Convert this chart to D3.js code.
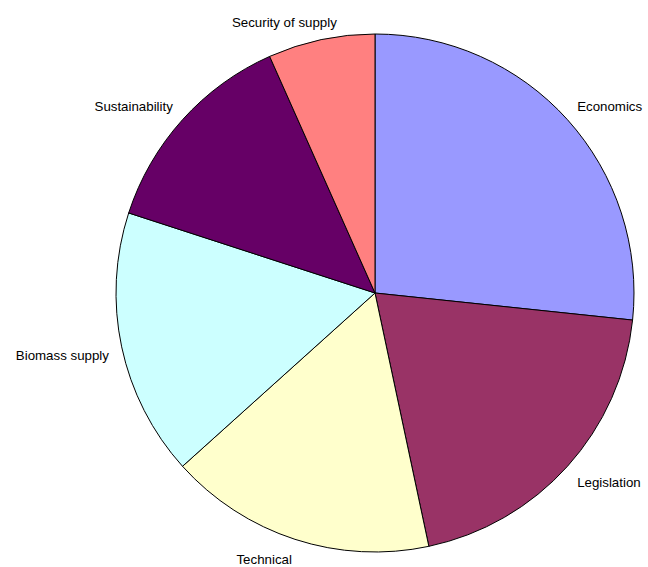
<!DOCTYPE html>
<html>
<head>
<meta charset="utf-8">
<script src="https://cdn.jsdelivr.net/npm/d3@7"></script>
<style>
  body { margin: 0; background: #fff; }
  text { font-family: "Liberation Sans", Arial, sans-serif; font-size: 13.3px; fill: #000; }
</style>
</head>
<body>
<div id="chart"></div>
<script>
let categories = ["Economics", "Legislation", "Technical", "Biomass supply", "Sustainability", "Security of supply"];
let counts = [8, 6, 5, 5, 4, 2];
let colors = ["#9999ff", "#993366", "#ffffcc", "#ccffff", "#660066", "#ff8080"];

let width = 648, height = 567;
let cx = 375, cy = 293, radius = 259;
let labelGap = 13;

let svg = d3.select("#chart").append("svg")
    .attr("width", width).attr("height", height)
    .append("g").attr("transform", "translate(" + cx + "," + cy + ")");

let data = categories.map(function(c, i) { return {name: c, value: counts[i], color: colors[i]}; });

/* no sorting, slices go clockwise from 12 o'clock */
let pie = d3.pie().sort(null).value(function(d) { return d.value; });
let arc = d3.arc().innerRadius(0).outerRadius(radius);

let arcs = pie(data);

svg.selectAll("path.slice")
    .data(arcs)
    .enter().append("path")
    .attr("class", "slice")
    .attr("d", arc)
    .attr("fill", function(d) { return d.data.color; })
    .attr("stroke", "#000")
    .attr("stroke-width", 1);

function clamp(v) { return Math.max(-1, Math.min(1, v)); }

// labels sit just outside the mid angle, pushed away from the pie by their own size
svg.selectAll("text.label")
    .data(arcs)
    .enter().append("text")
    .attr("class", "label")
    .attr("text-anchor", "middle")
    .text(function(d) { return d.data.name; })
    .each(function(d) {
        let a = (d.startAngle + d.endAngle) / 2;
        let r = radius + labelGap;
        let px = Math.sin(a) * r, py = -Math.cos(a) * r;
        let w = this.getComputedTextLength();
        d3.select(this)
            .attr("x", px + (w / 2) * clamp(Math.sin(a) / 0.32))
            .attr("y", py + 6 + 6 * clamp(-Math.cos(a) / 0.3));
    });
</script>
</body>
</html>
